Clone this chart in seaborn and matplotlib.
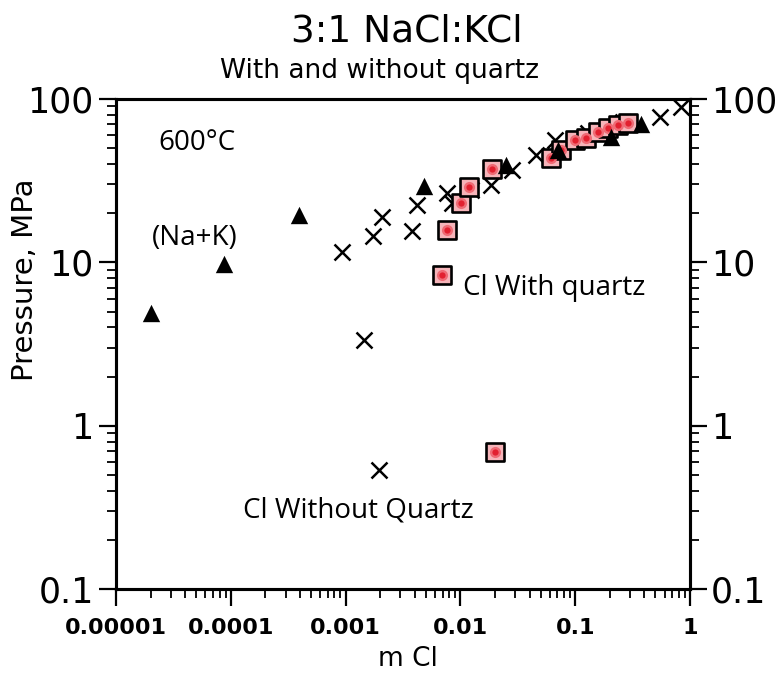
import numpy as np
import pandas as pd
import matplotlib
matplotlib.use("Agg")
import matplotlib.pyplot as plt
import seaborn as sns
from matplotlib.ticker import FixedLocator, FixedFormatter, NullFormatter

# ---------------- data ----------------
# (Na+K) - triangles
nak_m = [2.0e-5, 8.8e-5, 3.95e-4, 4.8e-3, 0.0248, 0.0714, 0.206, 0.376]
nak_p = [4.9, 9.8, 19.5, 29.3, 39.4, 48.7, 58.5, 70.3]

# Cl without quartz - crosses
clnq_m = [9.3e-4, 1.74e-3, 2.08e-3, 3.79e-3, 4.19e-3, 7.6e-3, 8.4e-3, 0.0123,
          0.0184, 0.0279, 0.046, 0.0673, 0.130, 0.262, 0.55, 0.835,
          1.45e-3, 1.96e-3]
clnq_p = [11.6, 14.5, 18.9, 15.6, 22.4, 26.5, 23.1, 27.7,
          29.7, 36.7, 45.4, 56.1, 62.0, 72.3, 77.6, 89.3,
          3.34, 0.535]

# Cl with quartz - red squares
clq_m = [0.0199, 6.9e-3, 7.6e-3, 0.0101, 0.0118, 0.0188, 0.0621, 0.0759,
         0.100, 0.125, 0.159, 0.194, 0.237, 0.290]
clq_p = [0.689, 8.36, 15.8, 23.1, 28.9, 37.3, 43.6, 48.7,
         56.1, 57.7, 62.8, 66.4, 69.3, 71.3]

x_ticks = [1e-5, 1e-4, 1e-3, 1e-2, 1e-1, 1]
x_labels = ["0.00001", "0.0001", "0.001", "0.01", "0.1", "1"]
y_ticks = [0.1, 1, 10, 100]
y_labels = ["0.1", "1", "10", "100"]

df_nak = pd.DataFrame({"m": nak_m, "P": nak_p})
df_nq = pd.DataFrame({"m": clnq_m, "P": clnq_p})
df_q = pd.DataFrame({"m": clq_m, "P": clq_p})


def minor_positions(lo_exp, hi_exp):
    return [k * 10.0 ** e for e in range(lo_exp, hi_exp) for k in range(2, 10)]


# ---------------- figure ----------------
sns.set_style("ticks")
plt.rcParams["font.family"] = ["DejaVu Sans"]
for key in ["text.color", "axes.labelcolor", "xtick.color", "ytick.color", "axes.edgecolor"]:
    plt.rcParams[key] = "black"

fig = plt.figure(figsize=(7.81, 6.73), dpi=100)
ax = fig.add_axes([0.1485, 0.1248, 0.735, 0.7281])
ax.set_xscale("log")
ax.set_yscale("log")

sns.scatterplot(data=df_nq, x="m", y="P", ax=ax, marker="x", s=11.5**2,
                color="black", linewidth=1.8, zorder=3, legend=False)
sns.scatterplot(data=df_q, x="m", y="P", ax=ax, marker="s", s=12.5**2,
                facecolor="#f6b4b9", edgecolor="black", linewidth=1.9,
                zorder=4, legend=False)
sns.scatterplot(data=df_q, x="m", y="P", ax=ax, marker="o", s=8**2,
                color="#ef6b75", linewidth=0, zorder=5, legend=False)
sns.scatterplot(data=df_q, x="m", y="P", ax=ax, marker="o", s=4.5**2,
                color="#e2202f", linewidth=0, zorder=6, legend=False)
sns.scatterplot(data=df_nak, x="m", y="P", ax=ax, marker="^", s=12.5**2,
                color="black", linewidth=0, zorder=7, legend=False)

ax.set_xlim(1e-5, 1)
ax.set_ylim(0.1, 100)

# x axis
ax.xaxis.set_major_locator(FixedLocator(x_ticks))
ax.xaxis.set_major_formatter(FixedFormatter(x_labels))
ax.xaxis.set_minor_locator(FixedLocator(minor_positions(-5, 0)))
ax.xaxis.set_minor_formatter(NullFormatter())
# y axis
ax.yaxis.set_major_locator(FixedLocator(y_ticks))
ax.yaxis.set_major_formatter(FixedFormatter(y_labels))
ax.yaxis.set_minor_locator(FixedLocator(minor_positions(-1, 2)))
ax.yaxis.set_minor_formatter(NullFormatter())

ax.tick_params(axis="x", which="major", direction="out", length=12, width=1.6,
               pad=9, labelsize=16, top=False, colors="black")
ax.tick_params(axis="x", which="minor", direction="out", length=6.5, width=1.3,
               top=False, colors="black")
ax.tick_params(axis="y", which="major", direction="out", length=12, width=1.6,
               pad=4, labelsize=25, left=True, right=False, colors="black")
ax.tick_params(axis="y", which="minor", direction="out", length=6.5, width=1.3,
               left=True, right=False, colors="black")
for lab in ax.get_xticklabels():
    lab.set_fontweight("bold")

for sp in ax.spines.values():
    sp.set_linewidth(2.2)
    sp.set_color("black")
    sp.set_visible(True)

ax.set_xlabel("")
ax.set_ylabel("")

# right-hand axis mirroring the pressure scale
ax2 = ax.twinx()
ax2.set_yscale("log")
ax2.set_ylim(0.1, 100)
ax2.yaxis.set_major_locator(FixedLocator(y_ticks))
ax2.yaxis.set_major_formatter(FixedFormatter(y_labels))
ax2.yaxis.set_minor_locator(FixedLocator(minor_positions(-1, 2)))
ax2.yaxis.set_minor_formatter(NullFormatter())
ax2.tick_params(axis="y", which="major", direction="out", length=12, width=1.6,
                pad=3, labelsize=25, colors="black")
ax2.tick_params(axis="y", which="minor", direction="out", length=6.5, width=1.3,
                colors="black")
for sp in ax2.spines.values():
    sp.set_linewidth(2.2)
    sp.set_color("black")
ax2.set_ylabel("")

# ---------------- texts ----------------
fig.text(0.521, 0.9376, "3:1 NaCl:KCl", ha="center", va="baseline", fontsize=27,
         color="black")
fig.text(0.486, 0.884, "With and without quartz", ha="center", va="baseline",
         fontsize=19, color="black")
fig.text(0.522, 0.011, "m Cl", ha="center", va="baseline", fontsize=19, color="black")
fig.text(0.032, 0.584, "Pressure, MPa", ha="center", va="center", rotation=90,
         fontsize=21, color="black")

afont = dict(family=["Open Sans", "DejaVu Sans"], fontsize=20, color="black")
ax.text(0.073, 0.896, "600°C", transform=ax.transAxes, va="baseline", **afont)
ax.text(0.063, 0.702, "(Na+K)", transform=ax.transAxes, va="baseline", **afont)
ax.text(0.605, 0.600, "Cl With quartz", transform=ax.transAxes, va="baseline", **afont)
ax.text(0.221, 0.145, "Cl Without Quartz", transform=ax.transAxes, va="baseline", **afont)

fig.savefig("out.png", dpi=100)
